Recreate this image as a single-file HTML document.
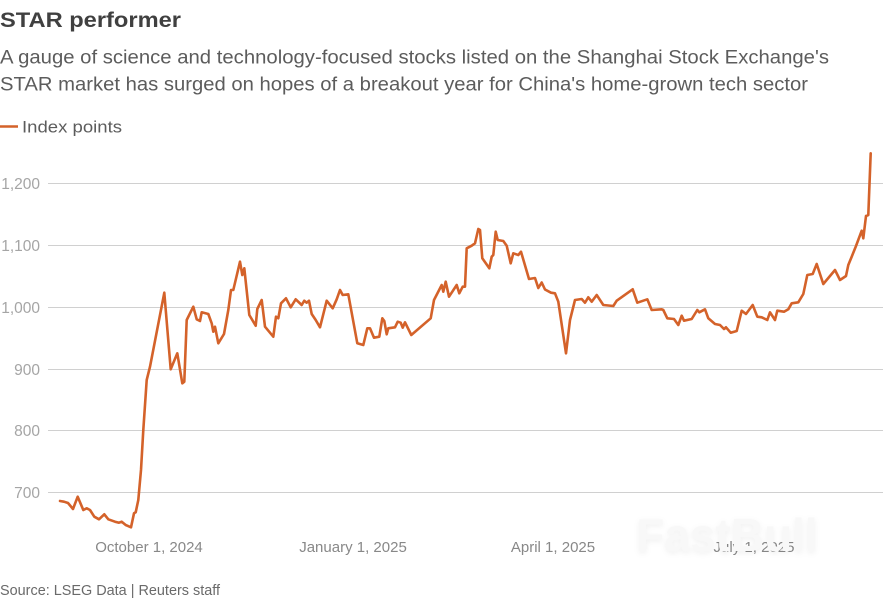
<!DOCTYPE html>
<html>
<head>
<meta charset="utf-8">
<style>
html,body{margin:0;padding:0;background:#fff;}
body{width:883px;height:600px;overflow:hidden;}
svg{display:block;}
text{font-family:"Liberation Sans",sans-serif;}
</style>
</head>
<body>
<svg width="883" height="600" viewBox="0 0 883 600" xmlns="http://www.w3.org/2000/svg">
  <!-- Title -->
  <text x="0" y="27" font-size="21.5" font-weight="bold" fill="#404040" textLength="181" lengthAdjust="spacingAndGlyphs">STAR performer</text>
  <text x="0" y="63.5" font-size="19" fill="#5c5c5c" textLength="829" lengthAdjust="spacingAndGlyphs">A gauge of science and technology-focused stocks listed on the Shanghai Stock Exchange's</text>
  <text x="0" y="90.5" font-size="19" fill="#5c5c5c" textLength="808" lengthAdjust="spacingAndGlyphs">STAR market has surged on hopes of a breakout year for China's home-grown tech sector</text>

  <!-- Legend -->
  <line x1="0" y1="126.5" x2="18" y2="126.5" stroke="#d4622a" stroke-width="2.5"/>
  <text x="22" y="132.5" font-size="16.5" fill="#5c5c5c" textLength="100" lengthAdjust="spacingAndGlyphs">Index points</text>

  <!-- Grid -->
  <g stroke="#d0d0d0" stroke-width="1">
    <line x1="48" y1="183.5" x2="883" y2="183.5"/>
    <line x1="48" y1="245.5" x2="883" y2="245.5"/>
    <line x1="48" y1="307.5" x2="883" y2="307.5"/>
    <line x1="48" y1="369.5" x2="883" y2="369.5"/>
    <line x1="48" y1="430.5" x2="883" y2="430.5"/>
    <line x1="48" y1="492.5" x2="883" y2="492.5"/>
  </g>

  <!-- Y labels -->
  <g font-size="15.5" fill="#a5a5a5" text-anchor="end">
    <text x="40" y="189">1,200</text>
    <text x="40" y="251">1,100</text>
    <text x="40" y="313">1,000</text>
    <text x="40" y="375">900</text>
    <text x="40" y="436">800</text>
    <text x="40" y="498">700</text>
  </g>

  <!-- X labels -->
  <g font-size="15" fill="#888" text-anchor="middle">
    <text x="149" y="552">October 1, 2024</text>
    <text x="353" y="552">January 1, 2025</text>
    <text x="553" y="552">April 1, 2025</text>
    <text x="754" y="552">July 1, 2025</text>
  </g>

  <!-- Watermark -->
  <text x="727" y="551" font-size="46" font-weight="bold" fill="#f8f8f8" text-anchor="middle" style="filter:drop-shadow(0 2px 3px rgba(0,0,0,0.06));">FastBull</text>

  <!-- Series -->
  <polyline fill="none" stroke="#d4622a" stroke-width="2.6" stroke-linejoin="round" stroke-linecap="round" points="
60,501 64,501.7 68,503 73,509 77.7,496.7 83.3,510 86.7,508.3 90,510 94.3,516.7 99,519.3 104.3,514.3 108.3,519.3 115,521.7 119,522.7 121.7,521.7 125.7,525 131,527.3 134,513.3 135.7,512.3 138.3,500 141,470 143.3,430 146.7,380 150,366.7 164.3,292.7 170.7,369.3 177.3,353.3 182.3,383.3 184.3,381.7 186.7,320 193.3,306.7 196.7,319.3 200,321 201.7,312.3 208.3,314 211.7,323.3 213.3,331.7 215,326.7 218.3,343.3 224,334 228.3,310 231,290 233.3,290 240,261.7 242.3,275 244.3,268.3 249.3,315 255.7,325.7 257.3,309 261.7,300 265,326.7 273.3,336.7 276,316.7 278.3,318.3 281,303.3 286,298.3 290.7,307.3 295.7,299.3 301.7,305 304.3,300.7 306.7,302.7 309,300.7 311.7,314 315.7,320 320,327.3 326.7,300.7 332.7,308.3 336.7,299.3 340,290 342.7,295 348.3,294.3 357.3,343.3 363.3,345 367.3,328.3 370,328.3 374,337.7 379.3,336.7 382.3,318.3 384.3,321 386.7,334.3 388.3,328.3 395,327.3 397.7,321.7 400.7,322.7 402.7,327.7 405,322.3 411.3,335 430.7,318.3 434,300 441.7,285 443.3,291.7 445.7,281.7 449,296.7 456.7,285 459.3,293.3 462.7,286.7 465,286.7 466.7,248.3 471.7,245.7 475,243.3 478.3,229 480,230 482.3,258.3 489.3,268.3 491.7,256.7 493.3,255 495.7,231.7 497.7,240 503.3,241 506.7,245.7 510.7,263.3 513.3,253.3 518.3,255 521,251.7 529,279 535,278 538.3,288 541.7,282.5 545,289.5 551,292.7 555,293.3 558.3,301.7 566,353.3 570,320 575,300 581.7,299 585,302.7 588.3,297.3 591.7,301.7 596.7,295 603.3,305 613.3,306 616.7,300.7 632.7,289.3 637.3,302.7 647.3,299.3 651.7,310 661.7,309.3 663.3,310 667.3,318.3 674,319 678.3,325 681.7,315.7 684,320.7 691.7,319 697.3,310 699.3,312.3 705,309.3 708.3,318.3 715,324 720,325 724,329 726,327.3 730.7,332.7 736.7,331 741.7,310.7 746,314 752.7,305 757.3,316.7 761.7,317.3 767.3,320 770,312.3 775,320 777.3,310.7 784,311.7 788.3,309.3 791.7,303.3 798.3,302.3 803.3,294 807.3,275 812.7,274 816.7,264 823.3,284 835,270 840,280 846,276 848.3,265 851.7,256.7 856,246 861.7,230.7 863.3,238.3 866,216 868.3,215 870.7,153.3"/>

  <!-- Source -->
  <text x="0" y="595" font-size="14.5" fill="#6a6a6a" textLength="220" lengthAdjust="spacingAndGlyphs">Source: LSEG Data | Reuters staff</text>
</svg>
</body>
</html>
